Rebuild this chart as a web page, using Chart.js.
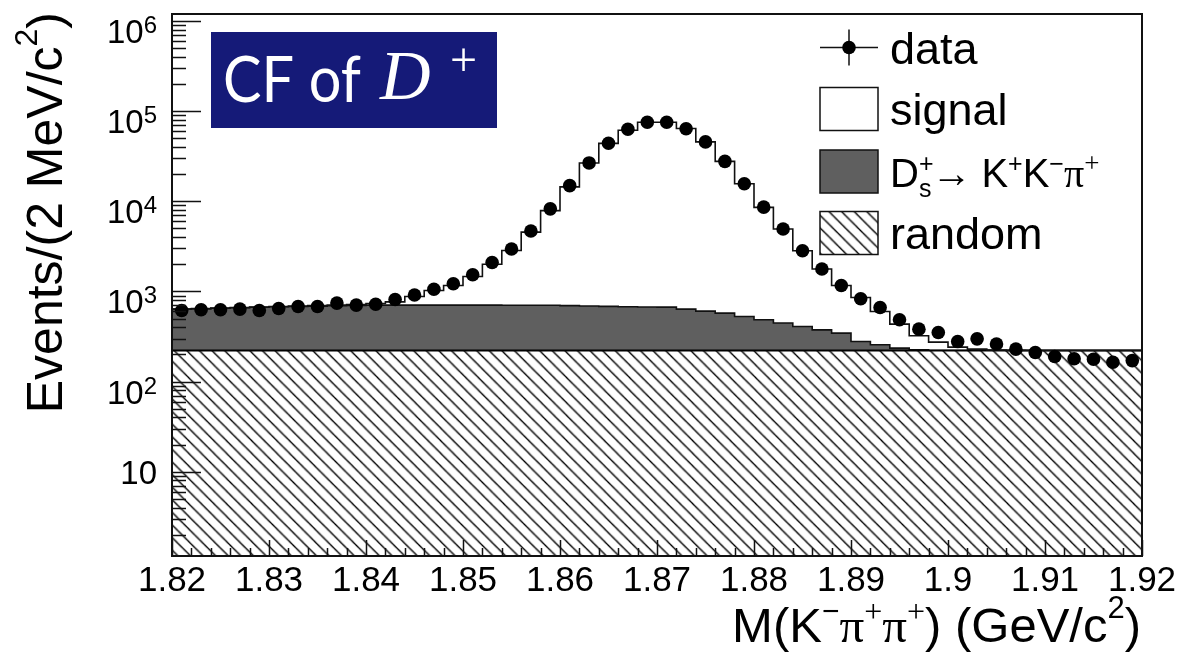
<!DOCTYPE html>
<html>
<head>
<meta charset="utf-8">
<script src="https://cdn.jsdelivr.net/npm/chart.js@4/dist/chart.umd.min.js"></script>
<style>
  html, body { margin: 0; padding: 0; background: #fff; }
  #wrap { width: 1181px; height: 656px; }
</style>
</head>
<body>
<div id="wrap"><canvas id="massPlot" width="1181" height="656"></canvas></div>
<script>
// bin centres, 2 MeV bins
const binCentres = [1.821, 1.823, 1.825, 1.827, 1.829, 1.831, 1.833, 1.835, 1.837, 1.839,
  1.841, 1.843, 1.845, 1.847, 1.849, 1.851, 1.853, 1.855, 1.857, 1.859,
  1.861, 1.863, 1.865, 1.867, 1.869, 1.871, 1.873, 1.875, 1.877, 1.879,
  1.881, 1.883, 1.885, 1.887, 1.889, 1.891, 1.893, 1.895, 1.897, 1.899,
  1.901, 1.903, 1.905, 1.907, 1.909, 1.911, 1.913, 1.915, 1.917, 1.919];

// measured events per bin
const dataCounts = [615, 626, 626, 637, 615, 647, 681, 681, 743, 706,
  721, 815, 914, 1058, 1218, 1534, 2100, 2958, 4690, 8255,
  14940, 26700, 44100, 63100, 75600, 75400, 63900, 45700, 27800, 15700,
  8620, 4930, 2830, 1774, 1166, 829, 664, 485, 382, 350,
  278, 298, 261, 229, 210, 190, 179, 177, 164, 171];

// fit components (not stacked)
const signalFit = [2, 3, 3, 4, 5, 6, 8, 10, 13, 18,
  28, 60, 175, 320, 460, 760, 1300, 2150, 3850, 7190,
  13800, 26000, 43300, 60800, 74700, 74700, 63700, 45100, 27200, 15170,
  8100, 4480, 2420, 1400, 820, 580, 343, 199, 97, 53,
  20, 8, 3, 1, 0, 0, 0, 0, 0, 0];
const dsFit = [417, 421, 430, 438, 446, 455, 460, 467, 473, 478,
  485, 485, 485, 485, 485, 485, 485, 482, 482, 482,
  476, 469, 462, 455, 452, 450, 416, 384, 354, 306,
  264, 225, 188, 154, 124, 57, 35, 14, 4, 0,
  0, 0, 0, 0, 0, 0, 0, 0, 0, 0];
const randomFit = [221, 221, 221, 221, 221, 221, 221, 221, 221, 221,
  221, 221, 221, 221, 221, 221, 221, 221, 221, 221,
  221, 221, 221, 221, 221, 221, 221, 221, 221, 221,
  221, 221, 221, 221, 221, 221, 221, 221, 221, 221,
  221, 221, 221, 221, 221, 221, 221, 221, 221, 221];

const xTickLabels = ['1.82', '1.83', '1.84', '1.85', '1.86', '1.87', '1.88', '1.89', '1.9', '1.91', '1.92'];
const yTickValues = [10, 100, 1000, 10000, 100000, 1000000];
const yTickExps = ['', '2', '3', '4', '5', '6'];
const legendLabels = ['data', 'signal', 'Ds', 'random'];

const SANS = '"Liberation Sans", Arial, sans-serif';
const SERIF = '"Liberation Serif", "Times New Roman", serif';

// stack the fit on top of each other
const randomTop = randomFit.slice();
const dsTop = randomFit.map((v, i) => v + dsFit[i]);
const totalTop = dsTop.map((v, i) => v + signalFit[i]);

// histogram outline: one point per left edge, plus the last right edge
const halfBin = (binCentres[1] - binCentres[0]) / 2;
function stepPoints(values) {
  const pts = values.map((v, i) => ({ x: binCentres[i] - halfBin, y: v }));
  pts.push({ x: binCentres[binCentres.length - 1] + halfBin, y: values[values.length - 1] });
  return pts;
}
const dataPoints = dataCounts.map((v, i) => ({ x: binCentres[i], y: v }));

// diagonal hatching like ROOT style 3004
function makeHatch(ctx) {
  const s = 12;
  const c = document.createElement('canvas');
  c.width = s; c.height = s;
  const g = c.getContext('2d');
  g.fillStyle = '#fff';
  g.fillRect(0, 0, s, s);
  g.strokeStyle = '#000';
  g.lineWidth = 1.3;
  g.beginPath();
  g.moveTo(-1, -1); g.lineTo(s + 1, s + 1);
  g.moveTo(-1, s - 1); g.lineTo(1, s + 1);
  g.moveTo(s - 1, -1); g.lineTo(s + 1, 1);
  g.stroke();
  const p = ctx.createPattern(c, 'repeat');
  if (p.setTransform) p.setTransform(new DOMMatrix().scale(1.05));
  return p;
}

// draws a run of text pieces (for super/subscripts)
function drawRich(ctx, parts, x, y, align) {
  let w = 0;
  parts.forEach(p => {
    ctx.font = p.font;
    p.w = ctx.measureText(p.text).width;
    w += (p.adv !== undefined ? p.adv : p.w) + (p.gap || 0);
  });
  let cx = align === 'right' ? x - w : x;
  ctx.textAlign = 'left';
  parts.forEach(p => {
    ctx.font = p.font;
    ctx.fillText(p.text, cx, y + (p.dy || 0));
    cx += (p.adv !== undefined ? p.adv : p.w) + (p.gap || 0);
  });
  return w;
}

const canvas = document.getElementById('massPlot');
const hatch = makeHatch(canvas.getContext('2d'));

const rootStyle = {
  id: 'rootStyle',
  afterDraw(chart) {
    const ctx = chart.ctx;
    const a = chart.chartArea;
    const xs = chart.scales.x;
    const ys = chart.scales.y;
    ctx.save();
    ctx.fillStyle = '#000';
    ctx.strokeStyle = '#111';

    // ticks inside the frame
    ctx.lineWidth = 1.5;
    ctx.beginPath();
    for (let n = 0; n <= 6; n++) {
      for (let m = 1; m <= 9; m++) {
        const v = m * Math.pow(10, n);
        if (v < ys.min || v > ys.max) continue;
        const py = Math.round(ys.getPixelForValue(v)) + 0.5;
        ctx.moveTo(a.left, py);
        ctx.lineTo(a.left + (m === 1 ? 29 : 14), py);
      }
    }
    for (let k = 0; k <= 50; k++) {
      const px = Math.round(xs.getPixelForValue(xs.min + k * (xs.max - xs.min) / 50)) + 0.5;
      ctx.moveTo(px, a.bottom);
      ctx.lineTo(px, a.bottom - (k % 5 === 0 ? 16 : 8));
    }
    ctx.stroke();

    // frame
    ctx.lineWidth = 2;
    ctx.strokeRect(a.left, a.top, a.right - a.left, a.bottom - a.top);

    // x tick labels
    ctx.font = '35px ' + SANS;
    ctx.textAlign = 'center';
    ctx.textBaseline = 'alphabetic';
    xTickLabels.forEach(t => {
      ctx.fillText(t, xs.getPixelForValue(parseFloat(t)), 591);
    });

    // y tick labels
    yTickValues.forEach((v, i) => {
      const py = ys.getPixelForValue(v);
      const right = a.left - 15;
      if (!yTickExps[i]) {
        ctx.font = '33px ' + SANS;
        ctx.textAlign = 'right';
        ctx.fillText('10', right, py + 12);
      } else {
        drawRich(ctx, [
          { text: '10', font: '33px ' + SANS, dy: 22 },
          { text: yTickExps[i], font: '24px ' + SANS, dy: 12, gap: 0 }
        ], right, py, 'right');
      }
    });

    // axis titles
    drawRich(ctx, [
      { text: 'M(K', font: '49px ' + SANS },
      { text: '\u2212', font: '30px ' + SANS, dy: -21 },
      { text: '\u03c0', font: '49px ' + SERIF },
      { text: '+', font: '32px ' + SERIF, dy: -20 },
      { text: '\u03c0', font: '49px ' + SERIF },
      { text: '+', font: '32px ' + SERIF, dy: -20 },
      { text: ') (GeV/c', font: '49px ' + SANS },
      { text: '2', font: '31px ' + SANS, dy: -24 },
      { text: ')', font: '49px ' + SANS }
    ], 1141, 642, 'right');

    ctx.save();
    ctx.translate(62, 12);
    ctx.rotate(-Math.PI / 2);
    drawRich(ctx, [
      { text: 'Events/(2 MeV/c', font: '50px ' + SANS },
      { text: '2', font: '32px ' + SANS, dy: -25 },
      { text: ')', font: '50px ' + SANS }
    ], 0, 0, 'right');
    ctx.restore();

    // CF of D+ label
    ctx.fillStyle = '#151a78';
    ctx.fillRect(211, 32, 286, 96);
    ctx.fillStyle = '#fff';
    ctx.save();
    ctx.translate(223, 102);
    ctx.scale(0.9, 1);
    ctx.font = '64px Lato, ' + SANS;
    ctx.textAlign = 'left';
    ctx.fillText('CF of', 0, 0);
    ctx.restore();
    drawRich(ctx, [
      { text: 'D', font: 'italic 70px ' + SERIF },
    ], 380, 99, 'left');
    drawRich(ctx, [
      { text: '+', font: '48px ' + SERIF },
    ], 450, 76, 'left');

    // legend
    ctx.fillStyle = '#000';
    const rows = [47.5, 109, 171.5, 233];
    const bx = 820, bw = 58, bh = 43;
    // data: marker with error cross
    ctx.lineWidth = 1.5;
    ctx.beginPath();
    ctx.moveTo(bx, rows[0]); ctx.lineTo(bx + bw, rows[0]);
    ctx.moveTo(bx + bw / 2, rows[0] - 18); ctx.lineTo(bx + bw / 2, rows[0] + 18);
    ctx.stroke();
    ctx.beginPath();
    ctx.arc(bx + bw / 2, rows[0], 6.8, 0, Math.PI * 2);
    ctx.fill();
    // boxes
    ctx.lineWidth = 1.5;
    ctx.fillStyle = '#fff';
    ctx.fillRect(bx, rows[1] - bh / 2, bw, bh);
    ctx.strokeRect(bx, rows[1] - bh / 2, bw, bh);
    ctx.fillStyle = '#5f5f5f';
    ctx.fillRect(bx, rows[2] - bh / 2, bw, bh);
    ctx.strokeRect(bx, rows[2] - bh / 2, bw, bh);
    ctx.fillStyle = hatch;
    ctx.fillRect(bx, rows[3] - bh / 2, bw, bh);
    ctx.strokeRect(bx, rows[3] - bh / 2, bw, bh);

    ctx.fillStyle = '#000';
    const tx = 890;
    ctx.font = '45px ' + SANS;
    ctx.textAlign = 'left';
    ctx.fillText(legendLabels[0], tx, rows[0] + 16);
    ctx.fillText(legendLabels[1], tx, rows[1] + 16);
    ctx.fillText(legendLabels[3], tx, rows[3] + 16);
    const big = '40px ' + SANS, small = '25px ' + SANS;
    drawRich(ctx, [
      { text: 'D', font: big },
      { text: '+', font: small, dy: -15, adv: 0 },
      { text: 's', font: small, dy: 10 },
      { text: '\u2192 ', font: '40px ' + SERIF },
      { text: 'K', font: big },
      { text: '+', font: small, dy: -15 },
      { text: 'K', font: big },
      { text: '\u2212', font: small, dy: -15 },
      { text: '\u03c0', font: '40px ' + SERIF },
      { text: '+', font: '27px ' + SERIF, dy: -15 }
    ], tx, rows[2] + 15, 'left');

    ctx.restore();
  }
};

new Chart(canvas, {
  type: 'line',
  data: {
    datasets: [
      {
        label: legendLabels[0],
        data: dataPoints,
        showLine: false,
        pointRadius: 6.8,
        pointBackgroundColor: '#000',
        pointBorderWidth: 0,
        order: 0
      },
      {
        label: legendLabels[1],
        data: stepPoints(totalTop),
        stepped: true,
        borderColor: '#111',
        borderWidth: 1.6,
        pointRadius: 0,
        fill: false,
        order: 1
      },
      {
        label: legendLabels[3],
        data: stepPoints(randomTop),
        stepped: true,
        borderColor: '#000',
        borderWidth: 2,
        pointRadius: 0,
        fill: 'start',
        backgroundColor: hatch,
        order: 2
      },
      {
        label: legendLabels[2],
        data: stepPoints(dsTop),
        stepped: true,
        borderColor: '#111',
        borderWidth: 1.6,
        pointRadius: 0,
        fill: 2,
        backgroundColor: '#5f5f5f',
        order: 3
      }
    ]
  },
  options: {
    responsive: false,
    animation: false,
    devicePixelRatio: 1,
    layout: { padding: { left: 172, right: 39, top: 14, bottom: 100 } },
    scales: {
      x: { type: 'linear', min: 1.82, max: 1.92, display: false },
      y: { type: 'logarithmic', min: 1.16, max: 1.2e6, display: false }
    },
    plugins: {
      legend: { display: false },
      tooltip: { enabled: false }
    }
  },
  plugins: [rootStyle]
});
</script>
</body>
</html>
